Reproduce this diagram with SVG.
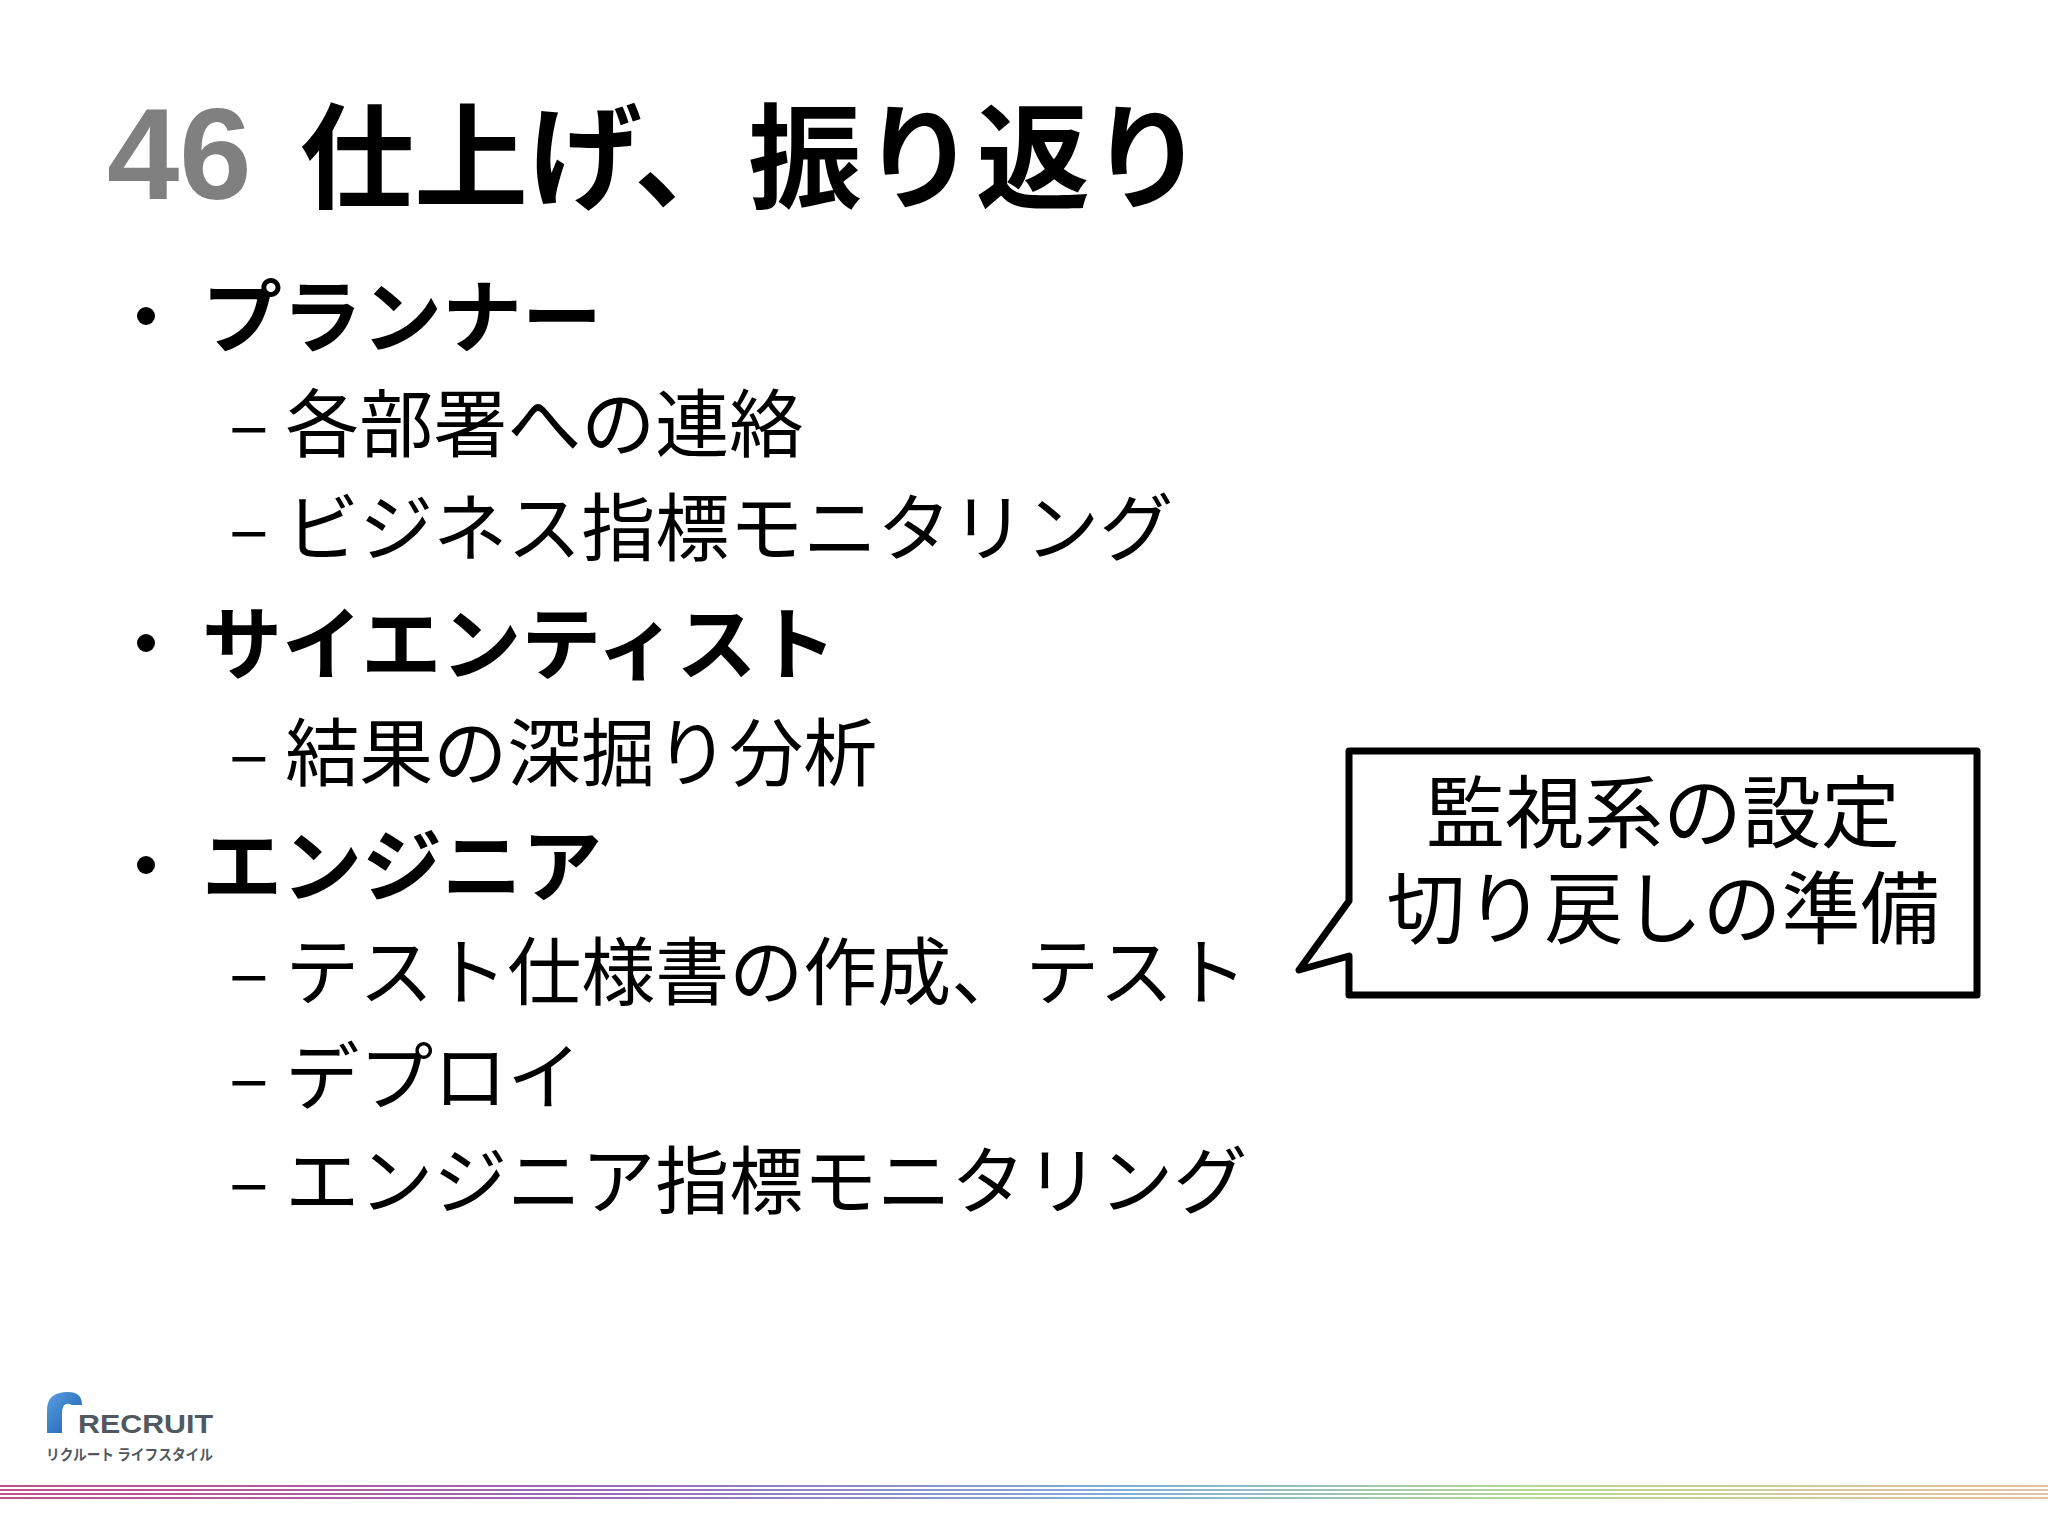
<svg xmlns="http://www.w3.org/2000/svg" width="2048" height="1536" viewBox="0 0 2048 1536">
<defs>
<style>
.jp{font-family:"Noto Sans CJK JP","Noto Sans",sans-serif;fill:#000}
.b{font-weight:bold}
.l1{font-size:80px;font-weight:bold}
.l2{font-size:74px}
</style>
<linearGradient id="st" gradientUnits="userSpaceOnUse" x1="0" x2="2048" y1="0" y2="0">
<stop offset="0" stop-color="#c0508a"/><stop offset="0.3" stop-color="#9a6ab8"/><stop offset="0.55" stop-color="#7fb0d8"/><stop offset="0.75" stop-color="#b8d890"/><stop offset="1" stop-color="#e8c0a0"/>
</linearGradient>
<linearGradient id="lg" x1="0" x2="1" y1="0" y2="1"><stop offset="0" stop-color="#5aa0e0"/><stop offset="1" stop-color="#1a5cb0"/></linearGradient>
</defs>
<rect width="2048" height="1536" fill="#fff"/>
<g id="title">
<text x="107" y="199" font-family="Liberation Sans,sans-serif" font-weight="bold" font-size="130" fill="#808080">46</text>
<text x="300" y="199" class="jp b" font-size="114">仕上げ、振り返り</text>
</g>
<g id="list">
<circle cx="146" cy="316" r="9" fill="#000"/>
<text x="202" y="346" class="jp l1">プランナー</text>
<text x="229" y="451" class="jp l2">– 各部署への連絡</text>
<text x="229" y="555" class="jp l2">– ビジネス指標モニタリング</text>
<circle cx="146" cy="643" r="9" fill="#000"/>
<text x="202" y="673" class="jp l1">サイエンティスト</text>
<text x="229" y="780" class="jp l2">– 結果の深掘り分析</text>
<circle cx="146" cy="865" r="9" fill="#000"/>
<text x="202" y="895" class="jp l1">エンジニア</text>
<text x="229" y="999" class="jp l2">– テスト仕様書の作成、テスト</text>
<text x="229" y="1104" class="jp l2">– デプロイ</text>
<text x="229" y="1208" class="jp l2">– エンジニア指標モニタリング</text>
</g>
<g id="callout">
<path d="M1349 751 H1977 V995 H1349 V956 L1299 970 L1349 901 Z" fill="#fff" stroke="#000" stroke-width="7" stroke-linejoin="round"/>
<text x="1663" y="842" text-anchor="middle" class="jp" font-size="79">監視系の設定</text>
<text x="1663" y="938" text-anchor="middle" class="jp" font-size="79">切り戻しの準備</text>
</g>
<g id="logo">
<path d="M47 1433 V1410 Q47 1392 68 1392 Q82 1392 82 1405 L72 1405 Q62 1400 62 1414 V1433 Z" fill="url(#lg)"/>
<text x="78" y="1433" font-family="Liberation Sans,sans-serif" font-weight="bold" font-size="26" fill="#505860" textLength="135" lengthAdjust="spacingAndGlyphs">RECRUIT</text>
<text x="46" y="1460" font-family="Noto Sans CJK JP,sans-serif" font-weight="bold" font-size="15" fill="#505860" textLength="167" lengthAdjust="spacingAndGlyphs">リクルート ライフスタイル</text>
</g>
<g id="stripe" stroke="url(#st)" stroke-width="2">
<line x1="0" y1="1486" x2="2048" y2="1486"/>
<line x1="0" y1="1490" x2="2048" y2="1490"/>
<line x1="0" y1="1494" x2="2048" y2="1494"/>
<line x1="0" y1="1498" x2="2048" y2="1498"/>
</g>
</svg>
